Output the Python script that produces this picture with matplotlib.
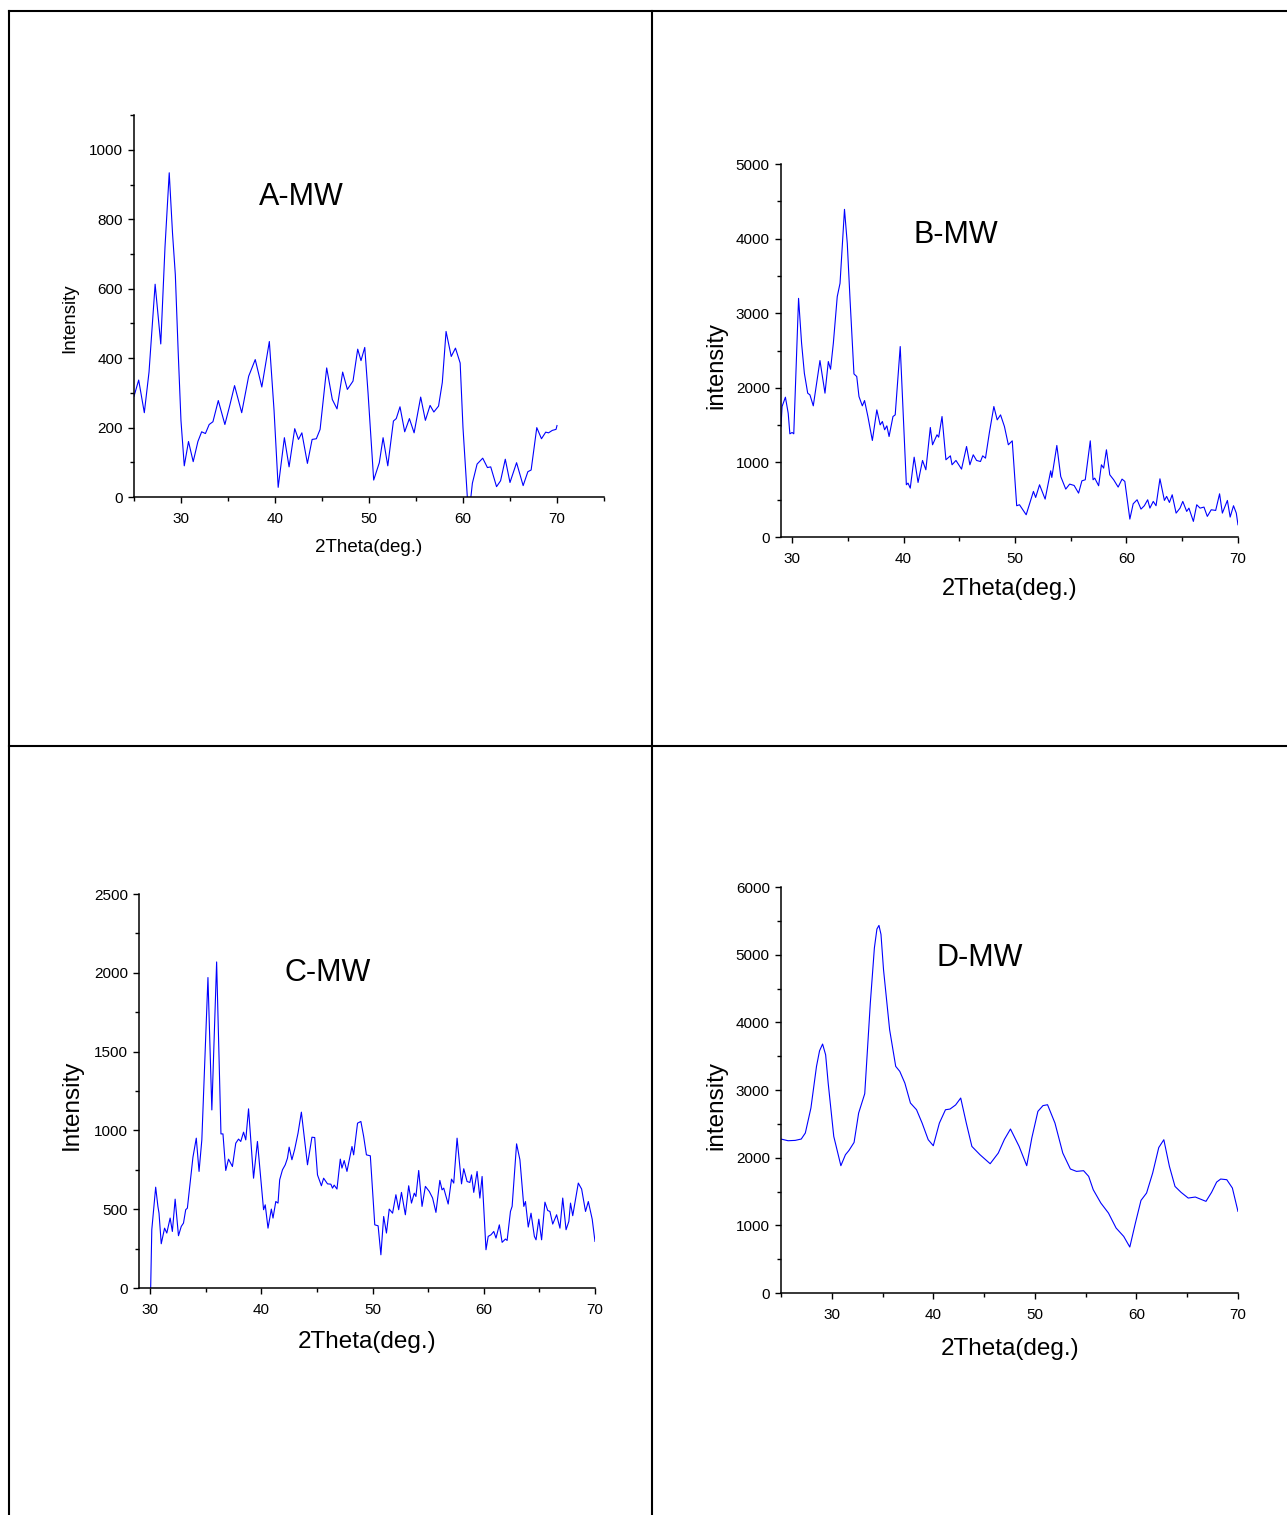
import matplotlib
matplotlib.use("Agg")
import matplotlib.pyplot as plt
from matplotlib.lines import Line2D
from matplotlib.ticker import MultipleLocator

plt.rcParams["font.family"] = ["Liberation Sans", "DejaVu Sans"]

# ---- XRD patterns (2-theta in degrees, intensity in counts) ----
a_theta = [25.0, 25.5, 26.1, 26.6, 27.25, 27.85, 28.3, 28.75, 29.1, 29.4, 29.7,
           30.0, 30.35, 30.8, 31.3, 31.8, 32.2, 32.6, 33.0, 33.4, 33.97, 34.67,
           35.2, 35.7, 36.46, 37.2, 37.9, 38.6, 39.4, 39.9, 40.34, 41.0, 41.5,
           42.1, 42.5, 42.86, 43.45, 43.95, 44.4, 44.8, 45.5, 46.1, 46.6, 47.2,
           47.7, 48.3, 48.8, 49.15, 49.55, 49.9, 50.5, 51.1, 51.5, 52.0, 52.6,
           52.9, 53.3, 53.8, 54.3, 54.8, 55.5, 56.0, 56.5, 56.9, 57.4, 57.8,
           58.2, 58.75, 59.2, 59.7, 60.0, 60.6, 61.0, 61.5, 62.1, 62.6, 62.95,
           63.57, 64.0, 64.5, 65.0, 65.7, 66.4, 66.9, 67.25, 67.85, 68.35, 68.8,
           69.1, 69.5, 69.9, 70.0]
a_intensity = [290, 337, 243, 360, 613, 441, 720, 934, 760, 640, 420,
               220, 90, 160, 102, 160, 188, 183, 209, 217, 278, 209,
               265, 321, 243, 348, 396, 317, 448, 250, 28, 171, 87,
               197, 166, 185, 97, 166, 168, 195, 372, 281, 254, 360,
               310, 334, 426, 393, 431, 300, 49, 99, 171, 90, 219,
               226, 260, 188, 226, 185, 288, 221, 264, 245, 262, 330,
               477, 405, 429, 386, 200, -60, 40, 95, 112, 85, 87,
               30, 47, 109, 42, 99, 33, 73, 78, 200, 168, 187,
               185, 192, 195, 206]

b_theta = [29.0, 29.1, 29.4, 29.65, 29.8, 30.0, 30.15, 30.58, 30.85, 31.1, 31.4,
           31.6, 31.9, 32.5, 32.95, 33.25, 33.45, 33.7, 34.05, 34.3, 34.7, 34.95,
           35.2, 35.55, 35.8, 36.0, 36.3, 36.5, 36.8, 37.2, 37.6, 37.9, 38.1,
           38.3, 38.5, 38.7, 39.05, 39.25, 39.7, 40.25, 40.4, 40.6, 40.95, 41.3,
           41.7, 42.0, 42.4, 42.6, 43.0, 43.15, 43.45, 43.8, 44.2, 44.35, 44.7,
           45.2, 45.65, 45.95, 46.25, 46.55, 46.9, 47.1, 47.35, 47.7, 48.1, 48.4,
           48.7, 49.05, 49.4, 49.75, 50.15, 50.4, 51.0, 51.65, 51.85, 52.2, 52.7,
           53.2, 53.3, 53.75, 54.1, 54.55, 54.9, 55.3, 55.7, 56.0, 56.3, 56.75,
           57.0, 57.15, 57.5, 57.75, 57.95, 58.2, 58.5, 58.85, 59.25, 59.6, 59.85,
           60.3, 60.6, 60.95, 61.3, 61.6, 61.9, 62.1, 62.4, 62.65, 63.0, 63.4,
           63.6, 63.85, 64.1, 64.45, 64.8, 65.05, 65.4, 65.6, 66.0, 66.3, 66.6,
           66.95, 67.25, 67.6, 68.0, 68.35, 68.6, 69.05, 69.3, 69.6, 69.85, 70.0]
b_intensity = [1480, 1750, 1875, 1660, 1384, 1402, 1384, 3200, 2600, 2196, 1929,
               1906, 1759, 2366, 1929, 2353, 2250, 2598, 3223, 3402, 4393, 3937,
               3179, 2187, 2152, 1884, 1759, 1830, 1616, 1295, 1705, 1504, 1549,
               1438, 1491, 1348, 1616, 1638, 2554, 701, 723, 656, 1071, 732,
               1027, 902, 1469, 1237, 1371, 1339, 1616, 1036, 1089, 969, 1027,
               911, 1214, 969, 1103, 1027, 1013, 1089, 1058, 1402, 1750, 1571,
               1638, 1482, 1237, 1290, 420, 433, 299, 612, 531, 701, 509,
               888, 799, 1228, 812, 643, 710, 692, 589, 754, 768, 1290,
               768, 790, 688, 969, 924, 1170, 835, 768, 670, 777, 746,
               241, 446, 500, 375, 420, 500, 388, 478, 420, 781, 491,
               545, 464, 567, 321, 388, 478, 344, 388, 210, 433, 388,
               402, 277, 366, 357, 580, 321, 491, 268, 420, 321, 165]

c_theta = [30.05, 30.15, 30.5, 30.7, 30.8, 31.0, 31.3, 31.5, 31.8, 32.0, 32.25,
           32.55, 32.8, 33.0, 33.2, 33.35, 33.85, 34.15, 34.4, 34.65, 35.2, 35.55,
           35.98, 36.37, 36.55, 36.8, 37.05, 37.4, 37.7, 37.95, 38.15, 38.4, 38.6,
           38.85, 39.3, 39.65, 40.2, 40.35, 40.6, 40.9, 41.05, 41.3, 41.5, 41.65,
           41.9, 42.15, 42.35, 42.5, 42.75, 43.0, 43.3, 43.6, 44.15, 44.55, 44.8,
           45.05, 45.4, 45.6, 45.95, 46.25, 46.4, 46.55, 46.8, 47.1, 47.25, 47.45,
           47.7, 48.15, 48.3, 48.65, 48.95, 49.2, 49.45, 49.8, 50.2, 50.5, 50.75,
           51.0, 51.25, 51.5, 51.8, 52.1, 52.35, 52.6, 52.95, 53.25, 53.5, 53.75,
           53.9, 54.15, 54.45, 54.75, 55.1, 55.4, 55.7, 56.05, 56.25, 56.4, 56.8,
           57.1, 57.3, 57.6, 58.0, 58.2, 58.5, 58.75, 58.9, 59.1, 59.4, 59.65,
           59.85, 60.2, 60.4, 60.65, 60.9, 61.1, 61.4, 61.65, 61.95, 62.1, 62.4,
           62.55, 62.95, 63.25, 63.6, 63.75, 64.0, 64.25, 64.55, 64.7, 64.95, 65.2,
           65.5, 65.75, 65.95, 66.2, 66.55, 66.85, 67.1, 67.4, 67.65, 67.8, 68.0,
           68.5, 68.8, 69.15, 69.4, 69.75, 70.0]
c_intensity = [0, 370, 640, 518, 475, 281, 380, 349, 444, 359, 564,
               332, 391, 412, 497, 507, 830, 951, 740, 940, 1970, 1130,
               2069, 978, 978, 746, 818, 771, 919, 945, 930, 989, 940,
               1137, 697, 930, 497, 528, 380, 501, 444, 549, 539, 687,
               750, 782, 824, 894, 814, 881, 983, 1116, 782, 957, 955,
               718, 649, 697, 661, 659, 634, 653, 628, 818, 761, 809,
               740, 898, 845, 1046, 1057, 962, 845, 839, 401, 395, 211,
               454, 349, 501, 475, 592, 497, 607, 465, 649, 539, 602,
               581, 746, 518, 645, 613, 571, 480, 683, 623, 634, 533,
               691, 666, 951, 661, 757, 676, 670, 718, 607, 740, 571,
               708, 243, 328, 338, 359, 317, 401, 290, 311, 302, 486,
               518, 915, 814, 518, 549, 387, 475, 328, 306, 437, 306,
               545, 492, 486, 406, 465, 380, 571, 370, 423, 539, 459,
               666, 628, 486, 549, 437, 296]

d_theta = [25.0, 25.7, 26.4, 27.0, 27.4, 27.95, 28.5, 28.8, 29.1, 29.4, 29.65,
           30.2, 30.9, 31.35, 31.7, 32.2, 32.65, 33.25, 33.8, 34.2, 34.45, 34.65,
           34.85, 35.1, 35.7, 36.3, 36.7, 37.2, 37.75, 38.35, 38.9, 39.5, 40.0,
           40.6, 41.2, 41.65, 42.2, 42.7, 43.25, 43.8, 44.6, 45.6, 46.4, 47.0,
           47.6, 48.45, 49.2, 49.7, 50.3, 50.8, 51.25, 51.98, 52.75, 53.5, 54.1,
           54.8, 55.3, 55.75, 56.5, 57.25, 58.0, 58.75, 59.35, 59.9, 60.45, 61.0,
           61.6, 62.2, 62.7, 63.25, 63.8, 64.4, 65.1, 65.8, 66.85, 67.4, 67.9,
           68.3, 68.9, 69.45, 70.0]
d_intensity = [2276, 2251, 2256, 2276, 2365, 2734, 3350, 3580, 3680, 3520, 3103,
               2315, 1882, 2044, 2108, 2226, 2660, 2946, 4286, 5100, 5380, 5433,
               5300, 4778, 3892, 3350, 3276, 3103, 2808, 2709, 2512, 2266, 2177,
               2512, 2709, 2719, 2780, 2882, 2512, 2167, 2044, 1911, 2069, 2270,
               2424, 2167, 1882, 2291, 2685, 2770, 2783, 2512, 2069, 1833, 1798,
               1808, 1724, 1527, 1330, 1182, 961, 837, 680, 1034, 1369, 1478,
               1773, 2150, 2266, 1872, 1576, 1488, 1404, 1419, 1355, 1488, 1640,
               1685, 1675, 1552, 1207]

# ---- panel settings ----
panels = [
    dict(x=a_theta, y=a_intensity, rect=(0.1041, 0.6719, 0.3652, 0.2521),
         xlim=(25, 75), ylim=(0, 1100), ymaj=200, ymin=100,
         ylabel="Intensity", lab_fs=13.5, ylab=(-0.136, 0.469), xlab=(0.5, -0.132),
         title="A-MW", tpos=(0.357, 0.785)),
    dict(x=b_theta, y=b_intensity, rect=(0.6068, 0.6455, 0.3551, 0.2462),
         xlim=(29, 70), ylim=(0, 5000), ymaj=1000, ymin=500,
         ylabel="intensity", lab_fs=17, ylab=(-0.142, 0.461), xlab=(0.501, -0.139),
         title="B-MW", tpos=(0.383, 0.810)),
    dict(x=c_theta, y=c_intensity, rect=(0.1080, 0.1498, 0.3543, 0.2601),
         xlim=(29, 70), ylim=(0, 2500), ymaj=500, ymin=250,
         ylabel="Intensity", lab_fs=17.5, ylab=(-0.147, 0.464), xlab=(0.5, -0.137),
         title="C-MW", tpos=(0.414, 0.799)),
    dict(x=d_theta, y=d_intensity, rect=(0.6068, 0.1465, 0.3551, 0.2680),
         xlim=(25, 70), ylim=(0, 6000), ymaj=1000, ymin=500,
         ylabel="intensity", lab_fs=17.5, ylab=(-0.142, 0.463), xlab=(0.501, -0.138),
         title="D-MW", tpos=(0.435, 0.826)),
]

fig = plt.figure(figsize=(12.87, 15.15), dpi=100)
fig.patch.set_facecolor("white")

for p in panels:
    ax = fig.add_axes(p["rect"])
    ax.plot(p["x"], p["y"], color="#0000ff", lw=0.8)
    ax.set_xlim(*p["xlim"])
    ax.set_ylim(*p["ylim"])
    ax.spines["top"].set_visible(False)
    ax.spines["right"].set_visible(False)
    for s in ("left", "bottom"):
        ax.spines[s].set_linewidth(1.1)
    ax.xaxis.set_major_locator(MultipleLocator(10))
    ax.xaxis.set_minor_locator(MultipleLocator(5))
    ax.yaxis.set_major_locator(MultipleLocator(p["ymaj"]))
    ax.yaxis.set_minor_locator(MultipleLocator(p["ymin"]))
    ax.tick_params(which="major", direction="out", length=4, width=1.0,
                   labelsize=11, pad=4)
    ax.tick_params(axis="x", which="major", pad=6.5)
    ax.tick_params(which="minor", direction="out", length=3, width=1.0)
    ax.set_xlabel("2Theta(deg.)", fontsize=p["lab_fs"])
    ax.set_ylabel(p["ylabel"], fontsize=p["lab_fs"])
    ax.xaxis.label.set_va("center")
    ax.yaxis.label.set_va("center")
    ax.xaxis.set_label_coords(*p["xlab"])
    ax.yaxis.set_label_coords(*p["ylab"])
    ax.text(p["tpos"][0], p["tpos"][1], p["title"], transform=ax.transAxes,
            fontsize=22, ha="center", va="center")

# table grid around the four panels
W, H = 1287.0, 1515.0
def hline(y, x0, x1):
    fig.add_artist(Line2D([x0 / W, x1 / W], [1 - y / H, 1 - y / H],
                          color="black", lw=1.5, transform=fig.transFigure))
def vline(x, y0, y1):
    fig.add_artist(Line2D([x / W, x / W], [1 - y0 / H, 1 - y1 / H],
                          color="black", lw=1.5, transform=fig.transFigure))

hline(11, 9, 1287)
hline(746, 9, 1287)
vline(9, 11, 1515)
vline(652, 11, 1515)

fig.savefig("out.png", dpi=100, facecolor="white")
